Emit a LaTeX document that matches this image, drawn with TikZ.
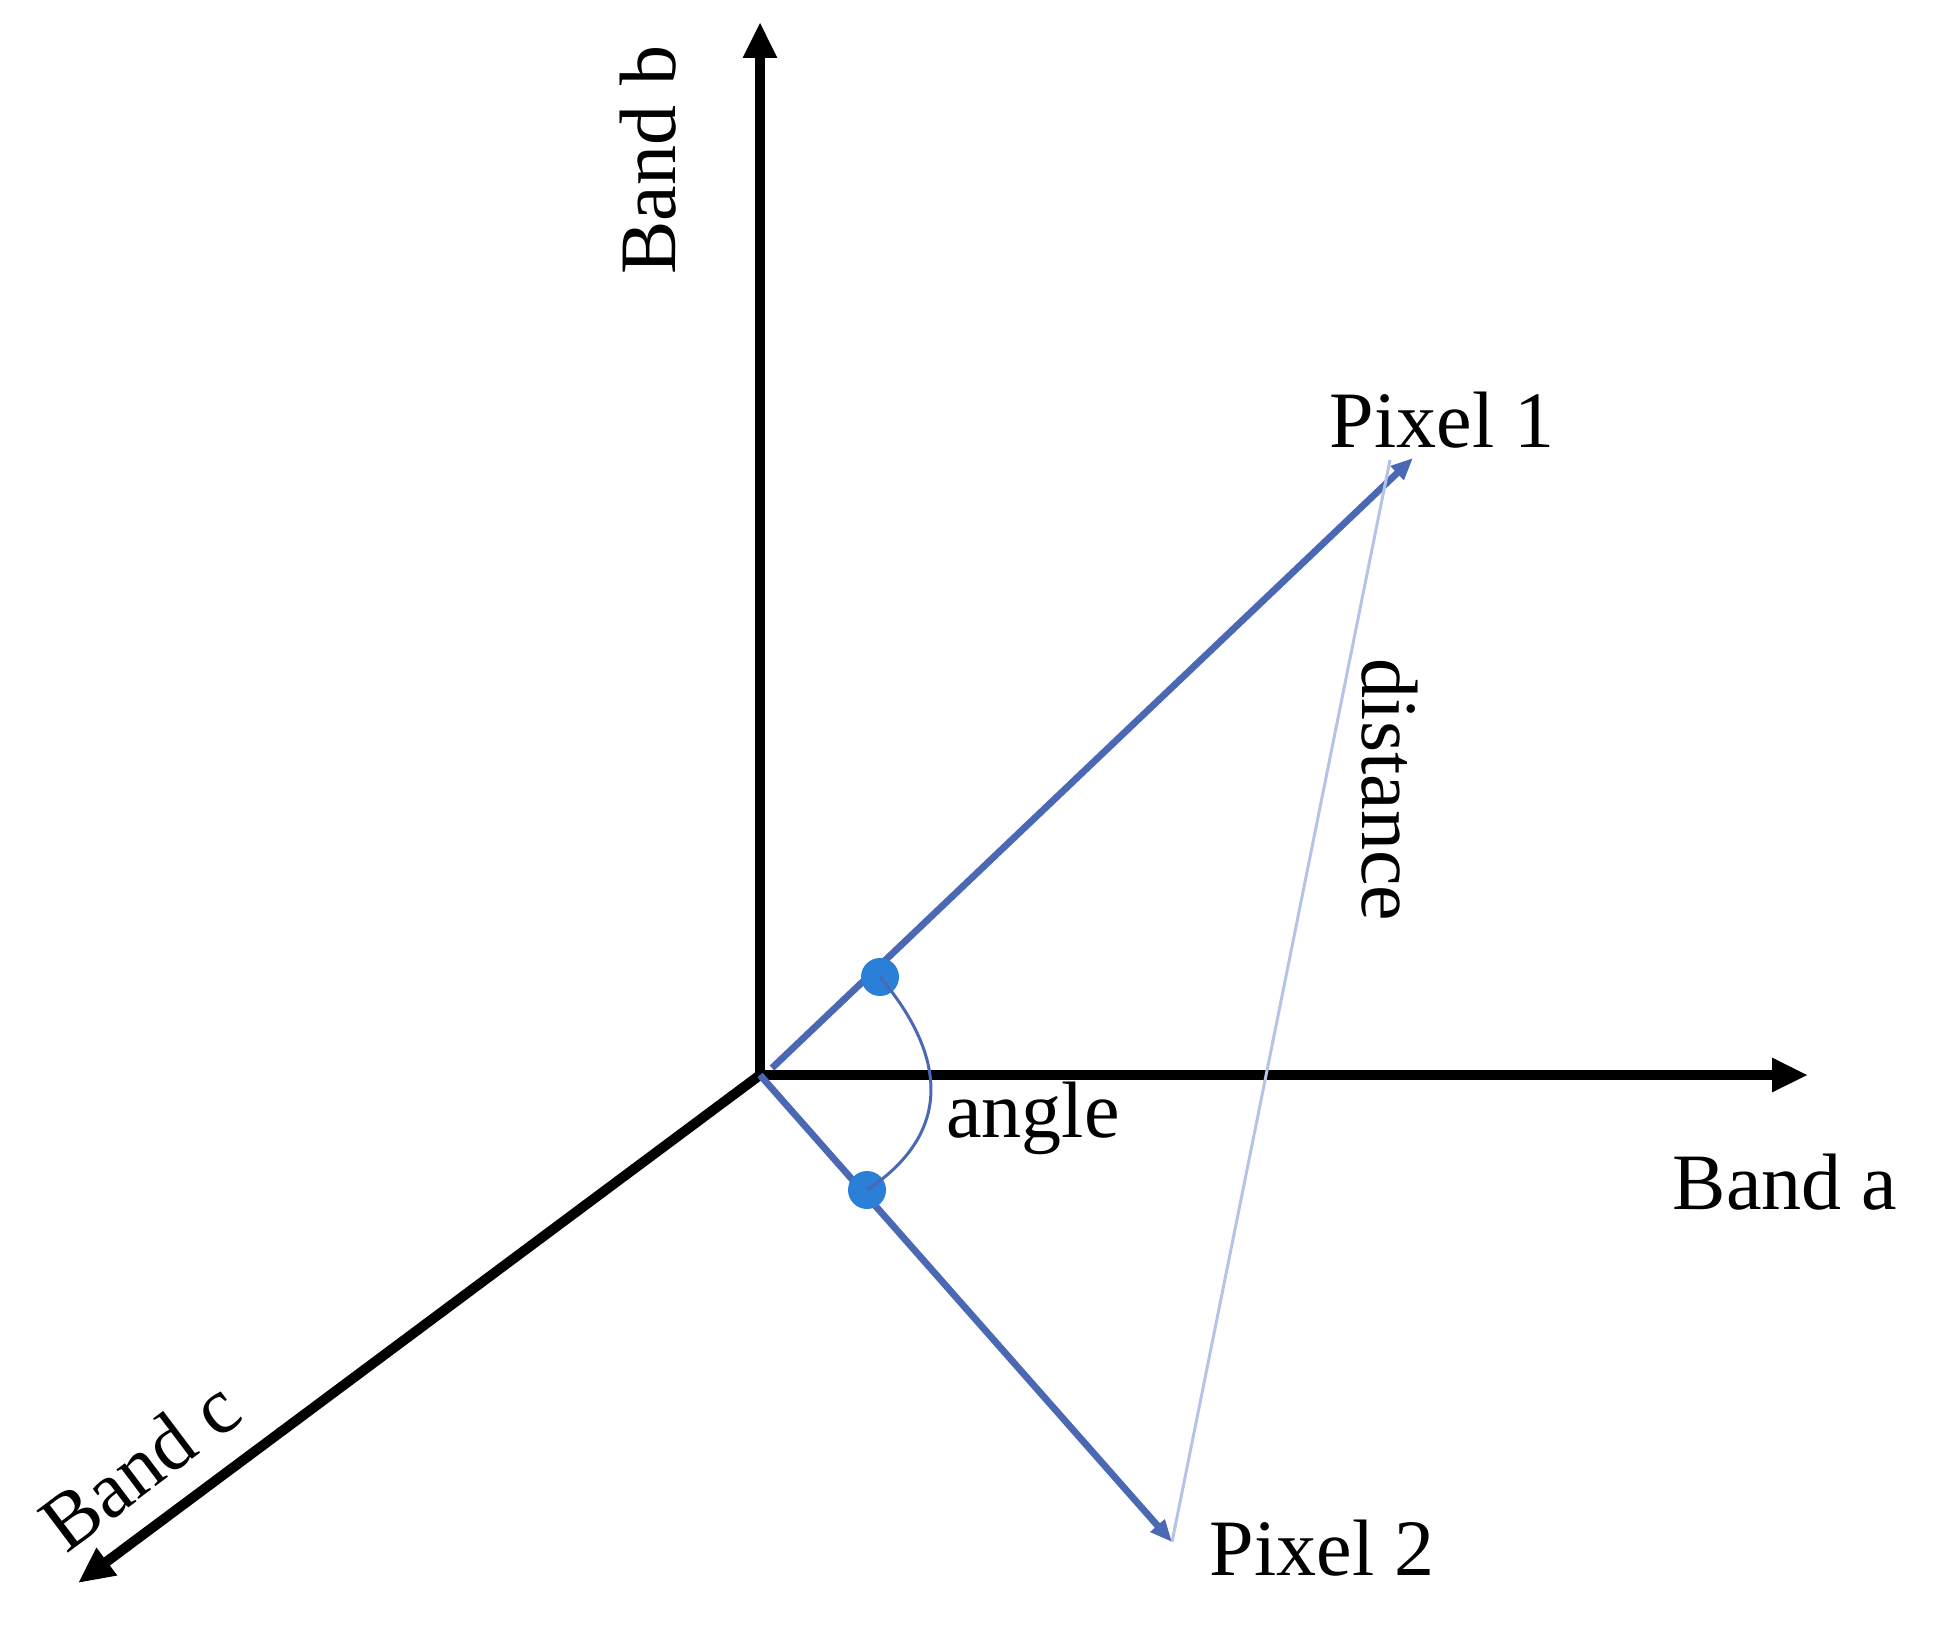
\documentclass[tikz,border=0pt]{standalone}
\usepackage{fontspec}
\setmainfont{Liberation Serif}
\usetikzlibrary{arrows.meta}
\definecolor{vblue}{HTML}{4A68B4}
\definecolor{dblue}{HTML}{2A7FD6}
\definecolor{lblue}{HTML}{B4C3E6}
\begin{document}
\begin{tikzpicture}[x=0.5pt,y=-0.5pt,
  axis/.style={line width=5pt,-{Triangle[length=18pt,width=16pt]}},
  vec/.style={vblue,line width=3.4pt,-{Triangle[length=11pt,width=9pt]}},
  lab/.style={font=\fontsize{40}{40}\selectfont,inner sep=0pt},
  dot/.style={circle,fill=dblue,minimum size=19pt,inner sep=0pt}]
\useasboundingbox (0,0) rectangle (1938,1626);
\coordinate (O) at (760,1075);
\coordinate (bt) at (760,22);
\coordinate (at) at (1808,1075);
\coordinate (ct) at (78,1583);
\coordinate (p1) at (1413,458);
\coordinate (p2) at (1172,1542);
\draw[axis] (O) -- (bt);
\draw[axis] (O) -- (at);
\draw[axis] (O) -- (ct);
\draw[vec] (772,1068) -- (p1);
\draw[vec] (O) -- (p2);
\draw[lblue,line width=1.5pt] (p2) -- (1390,460);
\node[dot] (d1) at (880,977) {};
\node[dot] (d2) at (867,1190) {};
\draw[vblue,line width=1.5pt] (d1.center) .. controls (950,1060) and (950,1135) .. (d2.center);
\node[lab,rotate=90] (lb) at (648,160) {Band b};
\node[lab] (l1) at (1442,420) {Pixel 1};
\node[lab,rotate=-90] (ld) at (1390,790) {distance};
\node[lab] (lan) at (1033,1118) {angle};
\node[lab] (la) at (1785,1182) {Band a};
\node[lab,rotate=37] (lc) at (140,1465) {Band c};
\node[lab] (l2) at (1322,1548) {Pixel 2};
\end{tikzpicture}
\end{document}
